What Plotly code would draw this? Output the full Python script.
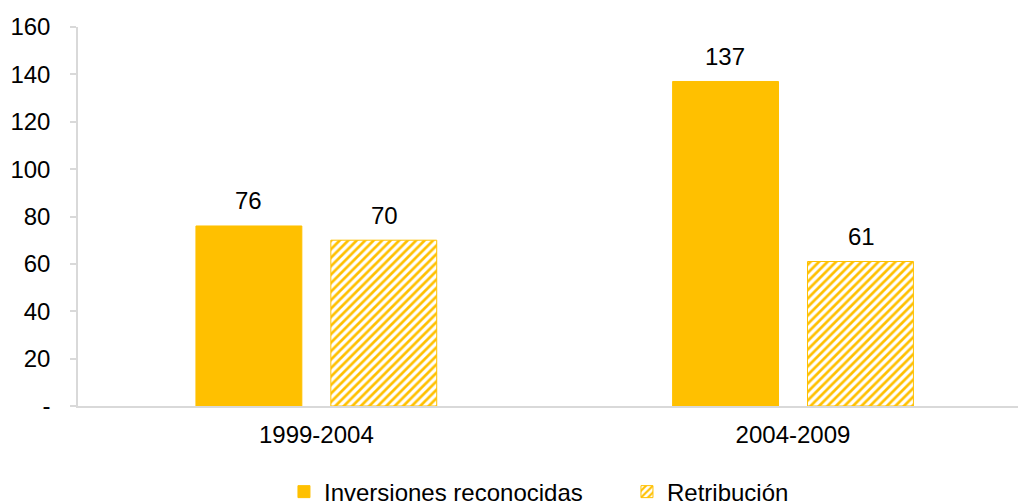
import plotly.graph_objects as go

categories = ["1999-2004", "2004-2009"]
inversiones = [76, 137]
retribucion = [70, 61]
series_names = ["Inversiones reconocidas", "Retribución"]
y_tickvals = [0, 20, 40, 60, 80, 100, 120, 140, 160]
y_ticktext = ["-", "20", "40", "60", "80", "100", "120", "140", "160"]

YELLOW = "#FFC000"
FONT = "Liberation Sans, Arial, sans-serif"

fig = go.Figure()
fig.add_trace(go.Bar(
    x=categories, y=inversiones, name=series_names[0],
    marker=dict(color=YELLOW, line=dict(color=YELLOW, width=1)),
))
fig.add_trace(go.Bar(
    x=categories, y=retribucion, name=series_names[1],
    marker=dict(color="white", line=dict(color=YELLOW, width=1),
                pattern=dict(shape="/", fgcolor=YELLOW, bgcolor="white",
                             size=6, solidity=0.45, fillmode="replace")),
))

for vals, xs in ((inversiones, -68), (retribucion, 68)):
    for c, v in zip(categories, vals):
        fig.add_annotation(x=c, y=v, text=str(v), showarrow=False,
                           xshift=xs, yshift=25, yanchor="middle",
                           font=dict(size=24, color="#000000", family=FONT))

fig.update_layout(
    width=1018, height=502,
    margin=dict(l=78, r=0, t=27, b=96, autoexpand=False),
    paper_bgcolor="white", plot_bgcolor="white",
    barmode="group", bargap=0.434, bargroupgap=0.215,
    font=dict(family=FONT, size=24, color="#000000"),
    showlegend=True,
    legend=dict(orientation="h", x=0.584, xanchor="center", y=-0.227, yanchor="middle",
                font=dict(size=24, family=FONT), entrywidth=298,
                itemclick=False),
    xaxis=dict(range=[-0.5, 1.472], showline=True, linecolor="#D9D9D9", linewidth=1.5,
               ticks="", showgrid=False, ticklabelstandoff=6, zeroline=False),
    yaxis=dict(range=[0, 160], tickvals=y_tickvals, ticktext=y_ticktext,
               showline=True, linecolor="#D9D9D9", linewidth=1.5,
               ticks="outside", ticklen=6, tickcolor="#D9D9D9", tickwidth=1.5,
               showgrid=False, zeroline=False, ticklabelstandoff=15),
)

fig.write_html("out.html")
